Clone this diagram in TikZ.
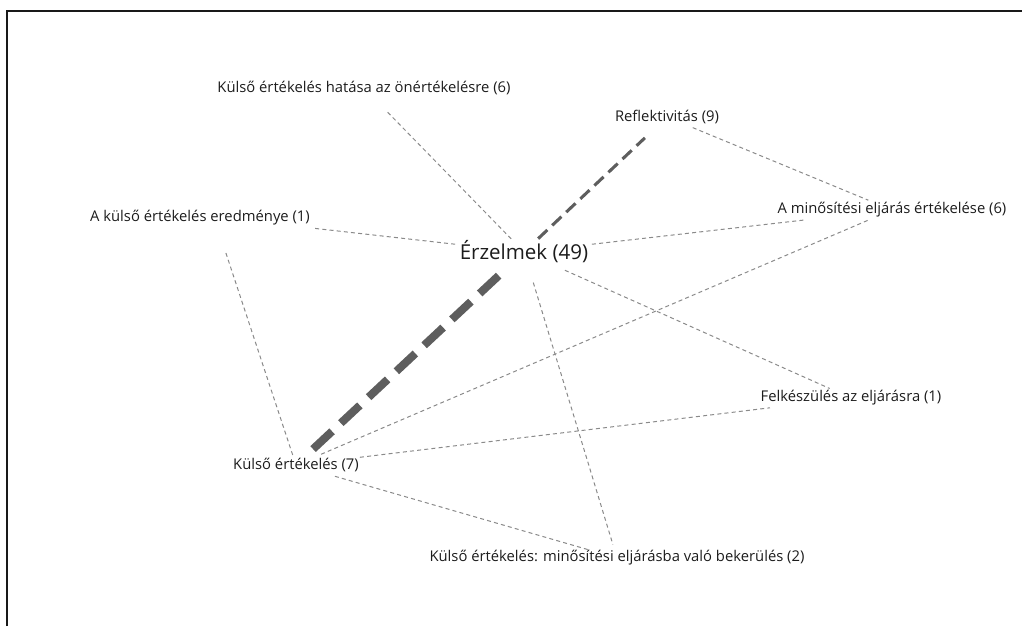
\documentclass[tikz,border=0pt]{standalone}
\usepackage{fontspec}
\setmainfont{Open Sans}
\usetikzlibrary{calc}
\definecolor{linkgray}{HTML}{8A8A8A}
\definecolor{strong}{HTML}{5E5E5E}
\definecolor{labeltext}{HTML}{1C1C1C}
\begin{document}
\begin{tikzpicture}[x=0.75pt,y=-0.75pt,
  lbl/.style={inner sep=0pt,text=labeltext,font=\fontsize{11.1}{13}\selectfont},
  hub/.style={inner sep=0pt,text=labeltext,font=\fontsize{15.4}{18}\selectfont},
  weak/.style={draw=linkgray,line width=0.75pt,dash pattern=on 3pt off 2.4pt},
  medium/.style={draw=strong,line width=2.3pt,dash pattern=on 9.5pt off 5pt},
  heavy/.style={draw=strong,line width=6pt,dash pattern=on 19.5pt off 9pt}]
\useasboundingbox (0,0) rectangle (1022,626);
% frame
\draw[line width=1.6pt,black!90] (7,626) -- (7,11) -- (1022,11);

% codes
\node[hub] (erz)  at (524,252) {Érzelmek (49)};
\node[lbl] (hat)  at (364,88)  {Külső értékelés hatása az önértékelésre (6)};
\node[lbl] (refl) at (667,117) {Reflektivitás (9)};
\node[lbl] (ered) at (200,218) {A külső értékelés eredménye (1)};
\node[lbl] (min)  at (892,210) {A minősítési eljárás értékelése (6)};
\node[lbl] (felk) at (851,398) {Felkészülés az eljárásra (1)};
\node[lbl] (k7)   at (296,465) {Külső értékelés (7)};
\node[lbl] (bek)  at (617,558) {Külső értékelés: minősítési eljárásba való bekerülés (2)};
\coordinate (ered-v) at ($(ered.center)+(14,-1)$);

% co-occurrence links
\draw[weak,shorten <=13.8pt,shorten >=23.3pt] (erz.center) -- (hat.center);
\draw[medium,shorten <=14.6pt,shorten >=22.8pt] (erz.center) -- (refl.center);
\draw[heavy,shorten <=26pt,shorten >=16pt] (erz.center) -- (k7.center);
\draw[weak,shorten <=52pt,shorten >=76.2pt] (erz.center) -- (ered-v);
\draw[weak,shorten <=51.3pt,shorten >=64.9pt] (erz.center) -- (min.center);
\draw[weak,shorten <=33.6pt,shorten >=17.5pt] (erz.center) -- (felk.center);
\draw[weak,shorten <=24pt,shorten >=10.4pt] (erz.center) -- (bek.center);
\draw[weak,shorten <=28.4pt,shorten >=7.8pt] (ered-v) -- (k7.center);
\draw[weak,shorten <=20.9pt,shorten >=19.2pt] (refl.center) -- (min.center);
\draw[weak,shorten <=20.5pt,shorten >=18.8pt] (k7.center) -- (min.center);
\draw[weak,shorten <=48.3pt,shorten >=61.2pt] (k7.center) -- (felk.center);
\draw[weak,shorten <=30.4pt,shorten >=21.6pt] (k7.center) -- (bek.center);
\end{tikzpicture}
\end{document}
